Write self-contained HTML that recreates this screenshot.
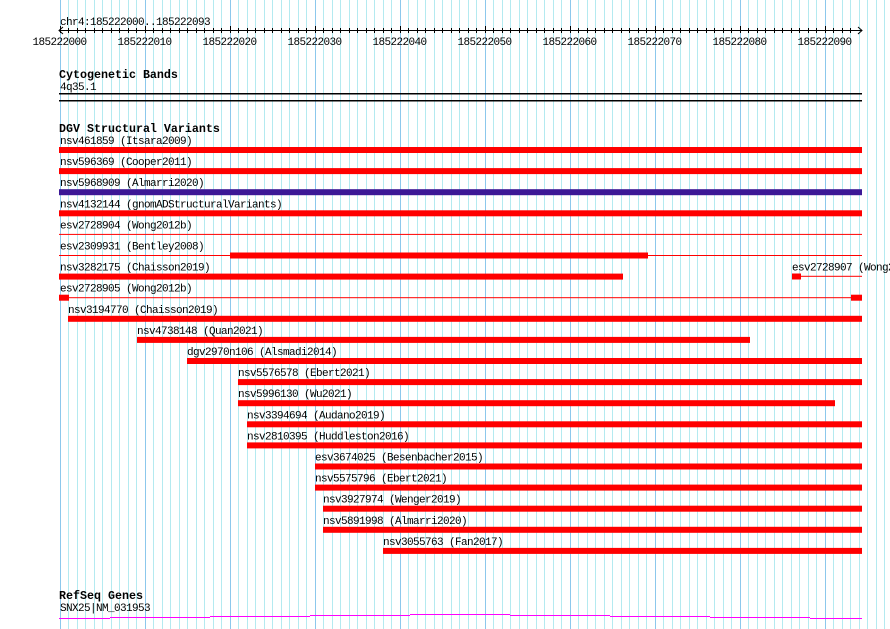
<!DOCTYPE html>
<html><head><meta charset="utf-8">
<style>
html,body{margin:0;padding:0;background:#fff;}
svg{display:block;font-family:"Liberation Mono",monospace;}
.t{font-size:11px;letter-spacing:-0.6px;}
.h{font-size:11.67px;font-weight:bold;}
</style></head>
<body>
<svg id="s" width="890" height="629" xmlns="http://www.w3.org/2000/svg"></svg>
<script>
var s=document.getElementById('s'),h='';
var X0=59.5,D=8.5;
function x(bp){return X0+D*bp;}
for(var i=0;i<98;i++){var xx=Math.round(x(i))+0.5;h+='<line x1="'+xx+'" y1="0" x2="'+xx+'" y2="629" stroke="'+(i%10==0?'#8cc8ec':'#b4eaf0')+'" stroke-width="1"/>';}
h+='<line x1="59" y1="30.5" x2="862" y2="30.5" stroke="#000"/>';
for(var i=0;i<=93;i++){var xx=Math.round(x(i))+0.5;h+='<line x1="'+xx+'" y1="'+(i%10==0?26:28)+'" x2="'+xx+'" y2="33" stroke="#000"/>';}
h+='<path d="M63 27 L59 30.5 L63 34 M858 27 L862 30.5 L858 34" fill="none" stroke="#000"/>';
h+='<text class="t" x="60" y="25">chr4:185222000..185222093</text>';
for(var i=0;i<=9;i++){h+='<text class="t" x="'+x(i*10)+'" y="45" text-anchor="middle">'+(185222000+i*10)+'</text>';}
h+='<text class="h" x="59" y="78">Cytogenetic Bands</text>';
h+='<text class="t" x="60" y="90">4q35.1</text>';
h+='<rect x="59" y="93" width="803" height="1.5" fill="#000"/><rect x="59" y="100" width="803" height="1.5" fill="#000"/>';
h+='<text class="h" x="59" y="132">DGV Structural Variants</text>';
var rows=[
["nsv461859 (Itsara2009)",60,[[59,862]],0],
["nsv596369 (Cooper2011)",60,[[59,862]],0],
["nsv5968909 (Almarri2020)",60,[[59,862]],0,'#3c1896'],
["nsv4132144 (gnomADStructuralVariants)",60,[[59,862]],0],
["esv2728904 (Wong2012b)",60,[],1],
["esv2309931 (Bentley2008)",60,[[230,648]],1],
["nsv3282175 (Chaisson2019)",60,[[59,623]],0],
["esv2728905 (Wong2012b)",60,[[59,69],[851,862]],1],
["nsv3194770 (Chaisson2019)",68,[[68,862]],0],
["nsv4738148 (Quan2021)",137,[[137,750]],0],
["dgv2970n106 (Alsmadi2014)",187,[[187,862]],0],
["nsv5576578 (Ebert2021)",238,[[238,862]],0],
["nsv5996130 (Wu2021)",238,[[238,835]],0],
["nsv3394694 (Audano2019)",247,[[247,862]],0],
["nsv2810395 (Huddleston2016)",247,[[247,862]],0],
["esv3674025 (Besenbacher2015)",315,[[315,862]],0],
["nsv5575796 (Ebert2021)",315,[[315,862]],0],
["nsv3927974 (Wenger2019)",323,[[323,862]],0],
["nsv5891998 (Almarri2020)",323,[[323,862]],0],
["nsv3055763 (Fan2017)",383,[[383,862]],0]];
for(var r=0;r<rows.length;r++){
 var R=rows[r],ty=144+r*21.1,by=147+r*21.1,c=R[4]||'#f00';
 h+='<text class="t" x="'+R[1]+'" y="'+ty+'">'+R[0]+'</text>';
 if(R[3])h+='<rect x="59" y="'+(by+2.5)+'" width="803" height="1" fill="#f00"/>';
 for(var k=0;k<R[2].length;k++){var b=R[2][k];h+='<rect x="'+b[0]+'" y="'+by+'" width="'+(b[1]-b[0])+'" height="6" fill="'+c+'"/>';}
}
h+='<text class="t" x="792" y="270.4">esv2728907 (Wong2012b)</text>';
h+='<rect x="801" y="275.8" width="61" height="1" fill="#f00"/><rect x="792" y="273.5" width="9" height="6" fill="#f00"/>';
h+='<text class="h" x="59" y="599">RefSeq Genes</text>';
h+='<text class="t" x="60" y="611">SNX25|NM_031953</text>';
var seg=[[59,110,618],[110,210,617],[210,310,616],[310,410,615],[410,510,614],[510,610,615],[610,710,616],[710,810,617],[810,862,618]];
for(var k=0;k<seg.length;k++)h+='<rect x="'+seg[k][0]+'" y="'+seg[k][2]+'" width="'+(seg[k][1]-seg[k][0])+'" height="1" fill="#f0f"/>';
s.innerHTML=h;
</script>
</body></html>
